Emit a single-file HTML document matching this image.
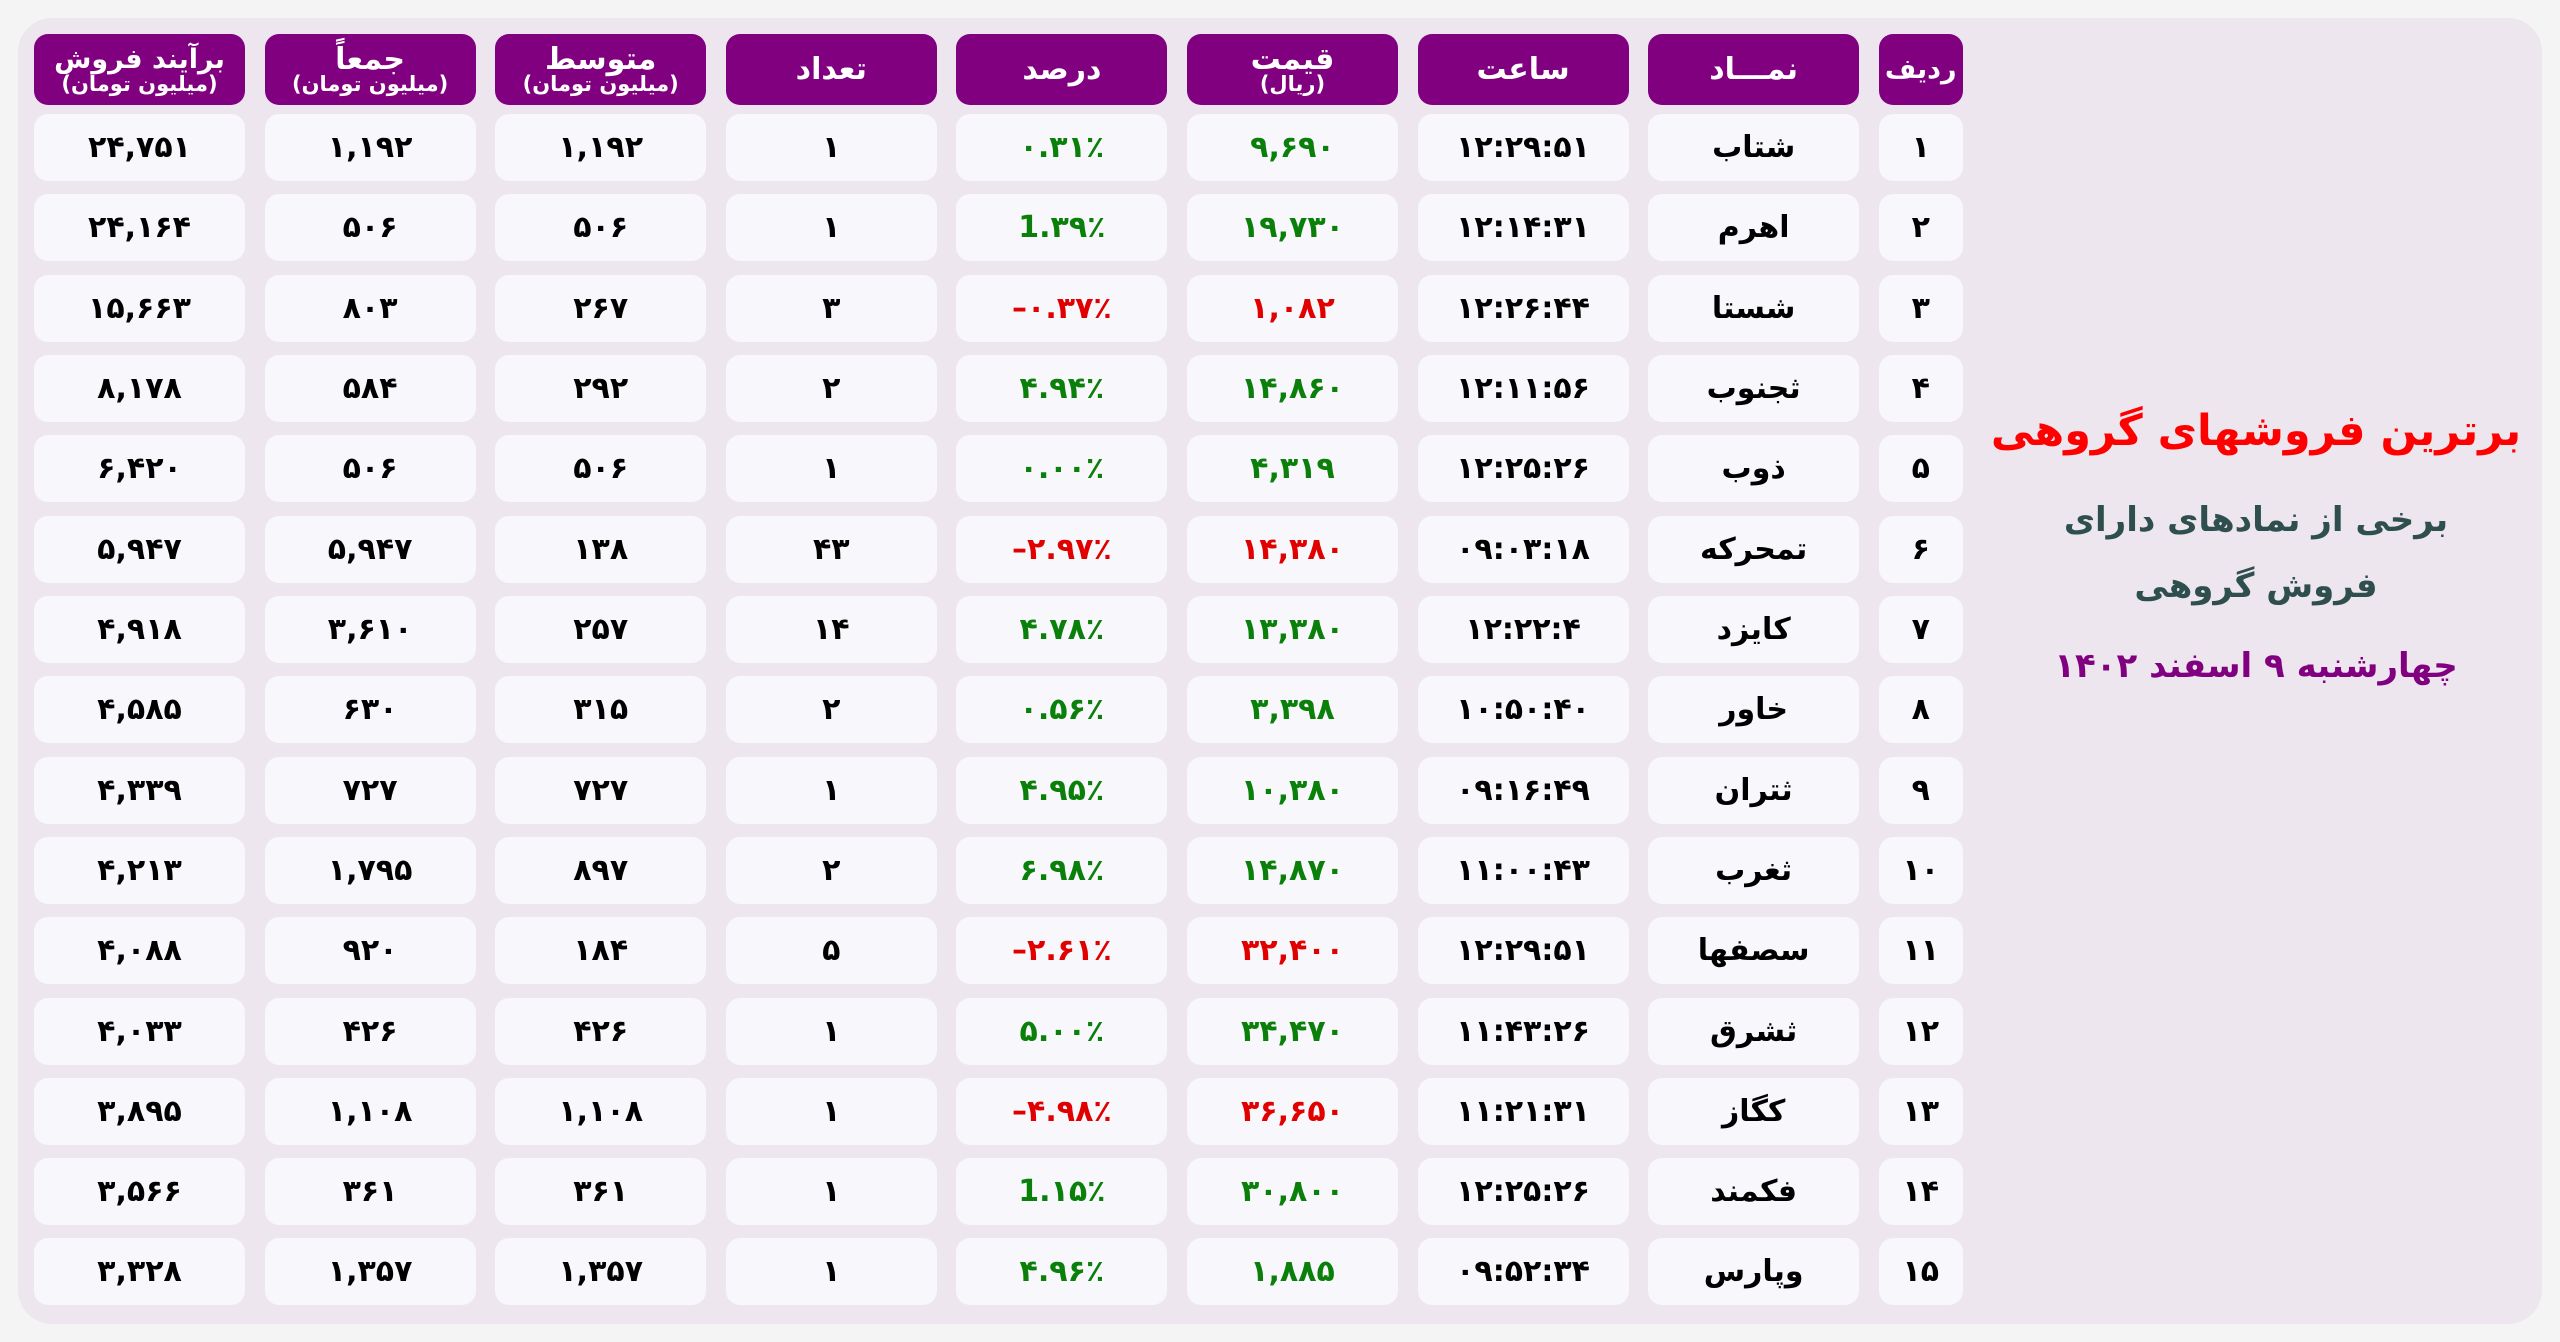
<!DOCTYPE html>
<html><head><meta charset="utf-8"><style>
body{margin:0;width:2560px;height:1342px;background:#f5f4f5;overflow:hidden;font-family:"DejaVu Sans","Liberation Sans",sans-serif;}
.panel{position:absolute;left:18px;top:18px;width:2524px;height:1306px;background:#ede6ee;border-radius:34px;}
.row{position:absolute;left:34px;display:grid;grid-template-columns:repeat(8,211px) 84px;column-gap:19.6px;}
.row div{background:#f7f7fc;border-radius:14px;height:67px;display:flex;align-items:center;justify-content:center;font-weight:bold;font-size:30px;color:#000;}
.row.h div{background:#800080;color:#fff;height:71px;flex-direction:column;font-size:30px;line-height:29px;}
.row.h div small{font-size:21px;line-height:20px;}
.n{direction:ltr;unicode-bidi:bidi-override;}
.g{color:#0a800a!important}.r{color:#e00000!important}
.t{position:absolute;left:1966px;width:580px;text-align:center;font-weight:bold;direction:rtl;white-space:nowrap;}
</style></head><body>
<div class="panel"></div>
<div class="row h" style="top:34px"><div style="font-size:27px">برآیند فروش<small>(میلیون تومان)</small></div><div>جمعاً<small>(میلیون تومان)</small></div><div>متوسط<small>(میلیون تومان)</small></div><div>تعداد</div><div>درصد</div><div>قیمت<small>(ریال)</small></div><div>ساعت</div><div>نمـــاد</div><div style="font-size:27px">ردیف</div></div>
<div class="row" style="top:114px"><div class="n">۲۴,۷۵۱</div><div class="n">۱,۱۹۲</div><div class="n">۱,۱۹۲</div><div class="n">۱</div><div class="n g">۰.۳۱٪</div><div class="n g">۹,۶۹۰</div><div class="n">۱۲:۲۹:۵۱</div><div>شتاب</div><div class="n">۱</div></div>
<div class="row" style="top:194px"><div class="n">۲۴,۱۶۴</div><div class="n">۵۰۶</div><div class="n">۵۰۶</div><div class="n">۱</div><div class="n g">1.۳۹٪</div><div class="n g">۱۹,۷۳۰</div><div class="n">۱۲:۱۴:۳۱</div><div>اهرم</div><div class="n">۲</div></div>
<div class="row" style="top:275px"><div class="n">۱۵,۶۶۳</div><div class="n">۸۰۳</div><div class="n">۲۶۷</div><div class="n">۳</div><div class="n r">–۰.۳۷٪</div><div class="n r">۱,۰۸۲</div><div class="n">۱۲:۲۶:۴۴</div><div>شستا</div><div class="n">۳</div></div>
<div class="row" style="top:355px"><div class="n">۸,۱۷۸</div><div class="n">۵۸۴</div><div class="n">۲۹۲</div><div class="n">۲</div><div class="n g">۴.۹۴٪</div><div class="n g">۱۴,۸۶۰</div><div class="n">۱۲:۱۱:۵۶</div><div>ثجنوب</div><div class="n">۴</div></div>
<div class="row" style="top:435px"><div class="n">۶,۴۲۰</div><div class="n">۵۰۶</div><div class="n">۵۰۶</div><div class="n">۱</div><div class="n g">۰.۰۰٪</div><div class="n g">۴,۳۱۹</div><div class="n">۱۲:۲۵:۲۶</div><div>ذوب</div><div class="n">۵</div></div>
<div class="row" style="top:516px"><div class="n">۵,۹۴۷</div><div class="n">۵,۹۴۷</div><div class="n">۱۳۸</div><div class="n">۴۳</div><div class="n r">–۲.۹۷٪</div><div class="n r">۱۴,۳۸۰</div><div class="n">۰۹:۰۳:۱۸</div><div>تمحرکه</div><div class="n">۶</div></div>
<div class="row" style="top:596px"><div class="n">۴,۹۱۸</div><div class="n">۳,۶۱۰</div><div class="n">۲۵۷</div><div class="n">۱۴</div><div class="n g">۴.۷۸٪</div><div class="n g">۱۳,۳۸۰</div><div class="n">۱۲:۲۲:۴</div><div>کایزد</div><div class="n">۷</div></div>
<div class="row" style="top:676px"><div class="n">۴,۵۸۵</div><div class="n">۶۳۰</div><div class="n">۳۱۵</div><div class="n">۲</div><div class="n g">۰.۵۶٪</div><div class="n g">۳,۳۹۸</div><div class="n">۱۰:۵۰:۴۰</div><div>خاور</div><div class="n">۸</div></div>
<div class="row" style="top:757px"><div class="n">۴,۳۳۹</div><div class="n">۷۲۷</div><div class="n">۷۲۷</div><div class="n">۱</div><div class="n g">۴.۹۵٪</div><div class="n g">۱۰,۳۸۰</div><div class="n">۰۹:۱۶:۴۹</div><div>ثتران</div><div class="n">۹</div></div>
<div class="row" style="top:837px"><div class="n">۴,۲۱۳</div><div class="n">۱,۷۹۵</div><div class="n">۸۹۷</div><div class="n">۲</div><div class="n g">۶.۹۸٪</div><div class="n g">۱۴,۸۷۰</div><div class="n">۱۱:۰۰:۴۳</div><div>ثغرب</div><div class="n">۱۰</div></div>
<div class="row" style="top:917px"><div class="n">۴,۰۸۸</div><div class="n">۹۲۰</div><div class="n">۱۸۴</div><div class="n">۵</div><div class="n r">–۲.۶۱٪</div><div class="n r">۳۲,۴۰۰</div><div class="n">۱۲:۲۹:۵۱</div><div>سصفها</div><div class="n">۱۱</div></div>
<div class="row" style="top:998px"><div class="n">۴,۰۳۳</div><div class="n">۴۲۶</div><div class="n">۴۲۶</div><div class="n">۱</div><div class="n g">۵.۰۰٪</div><div class="n g">۳۴,۴۷۰</div><div class="n">۱۱:۴۳:۲۶</div><div>ثشرق</div><div class="n">۱۲</div></div>
<div class="row" style="top:1078px"><div class="n">۳,۸۹۵</div><div class="n">۱,۱۰۸</div><div class="n">۱,۱۰۸</div><div class="n">۱</div><div class="n r">–۴.۹۸٪</div><div class="n r">۳۶,۶۵۰</div><div class="n">۱۱:۲۱:۳۱</div><div>کگاز</div><div class="n">۱۳</div></div>
<div class="row" style="top:1158px"><div class="n">۳,۵۶۶</div><div class="n">۳۶۱</div><div class="n">۳۶۱</div><div class="n">۱</div><div class="n g">1.۱۵٪</div><div class="n g">۳۰,۸۰۰</div><div class="n">۱۲:۲۵:۲۶</div><div>فکمند</div><div class="n">۱۴</div></div>
<div class="row" style="top:1238px"><div class="n">۳,۳۲۸</div><div class="n">۱,۳۵۷</div><div class="n">۱,۳۵۷</div><div class="n">۱</div><div class="n g">۴.۹۶٪</div><div class="n g">۱,۸۸۵</div><div class="n">۰۹:۵۲:۳۴</div><div>وپارس</div><div class="n">۱۵</div></div>
<div class="t" style="top:406px;font-size:43px;color:#f00;">برترین فروشهای گروهی</div>
<div class="t" style="top:500px;font-size:34px;color:#2f4f4f;">برخی از نمادهای دارای</div>
<div class="t" style="top:566px;font-size:34px;color:#2f4f4f;">فروش گروهی</div>
<div class="t" style="top:646px;font-size:34px;color:#800080;">چهارشنبه ۹ اسفند ۱۴۰۲</div>
</body></html>
